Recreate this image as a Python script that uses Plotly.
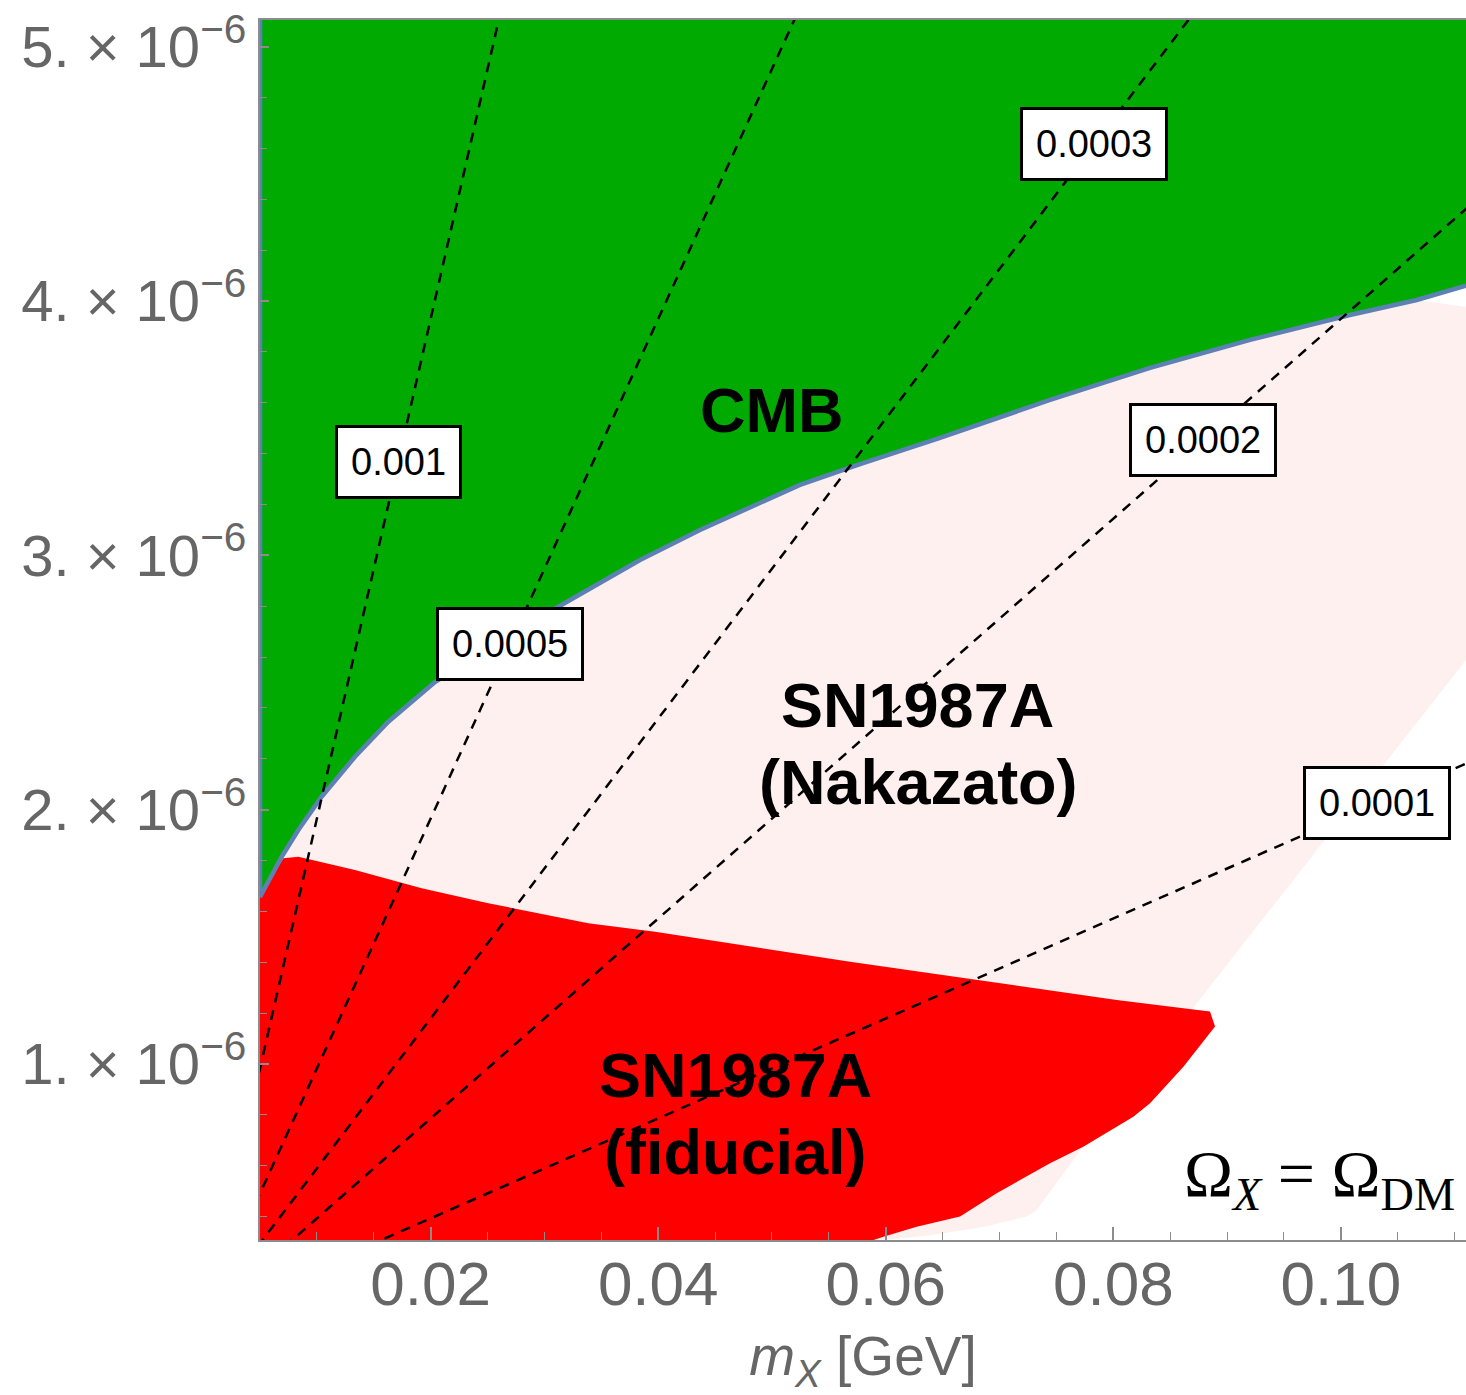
import plotly.graph_objects as go

# ---------------------------------------------------------------
# Exclusion regions in the (m_X, y) plane
# ---------------------------------------------------------------
# CMB bound: lower edge of the excluded (green) region
cmb_m = [0.005, 0.00691, 0.00837, 0.01042, 0.01335, 0.01628, 0.02038, 0.0270,
         0.03339, 0.0384, 0.04367, 0.05246, 0.05774, 0.06477, 0.07444, 0.08323,
         0.09202, 0.1008, 0.10667, 0.111]
cmb_y = [1.657, 1.815, 1.920, 2.051, 2.208, 2.346, 2.502, 2.69,
         2.856, 2.982, 3.100, 3.277, 3.359, 3.462, 3.611, 3.737,
         3.847, 3.945, 4.004, 4.06]  # units of 1e-6

# SN1987A (Nakazato) excluded region: outline, clockwise from upper left
nak_m = [0.005, 0.00691, 0.00837, 0.01042, 0.01335, 0.01628, 0.02038, 0.0270,
         0.03339, 0.0384, 0.04367, 0.05246, 0.05774, 0.06477, 0.07444, 0.08323,
         0.09202, 0.1008, 0.10667, 0.111, 0.111, 0.08736, 0.07734, 0.07327,
         0.07239, 0.06855, 0.06415, 0.05976, 0.0560, 0.005]
nak_y = [1.657, 1.815, 1.920, 2.051, 2.208, 2.346, 2.502, 2.69,
         2.856, 2.982, 3.100, 3.277, 3.359, 3.462, 3.611, 3.737,
         3.847, 3.945, 4.004, 3.977, 2.589, 1.240, 0.674, 0.426,
         0.400, 0.359, 0.328, 0.308, 0.28, 0.28]

# SN1987A (fiducial) excluded region outline
fid_m = [0.005, 0.00705, 0.00837, 0.01335, 0.01921, 0.02507, 0.03386, 0.03972,
         0.05686, 0.06389, 0.07151, 0.0803, 0.08616, 0.0885, 0.08894, 0.08616,
         0.08323, 0.08176, 0.07736, 0.07444, 0.06975, 0.06653, 0.06272, 0.05979,
         0.05774, 0.005]
fid_y = [1.658, 1.809, 1.815, 1.763, 1.691, 1.632, 1.553, 1.520,
         1.402, 1.357, 1.311, 1.252, 1.219, 1.206, 1.147, 0.989,
         0.846, 0.793, 0.675, 0.610, 0.492, 0.400, 0.360, 0.321,
         0.29, 0.29]

# Contours of constant coupling for Omega_X = Omega_DM: y = slope * level * m
contour_levels = [0.001, 0.0005, 0.0003, 0.0002, 0.0001]
contour_labels = ["0.001", "0.0005", "0.0003", "0.0002", "0.0001"]
contour_slope = 0.1965          # y / (level * m)
label_m = [0.01713, 0.02697, 0.0783, 0.08789, 0.1032]

x_range = [0.005, 0.111]
y_range = [0.308e-6, 5.105e-6]

y_tickvals = [1e-6, 2e-6, 3e-6, 4e-6, 5e-6]
y_ticktext = ["1. × 10<sup>−6</sup>", "2. × 10<sup>−6</sup>", "3. × 10<sup>−6</sup>",
              "4. × 10<sup>−6</sup>", "5. × 10<sup>−6</sup>"]

E6 = 1e-6
GREEN = "#00AA00"
PINK = "#FFF0F0"
RED = "#FF0000"
BLUE = "#5E81B5"
GRAY_TXT = "#666666"
GRAY_AX = "#8C8C8C"
SANS = "Liberation Sans, Arial, Helvetica, sans-serif"
SERIF = "Liberation Serif, Times New Roman, serif"

fig = go.Figure()

# Nakazato region (drawn first, lies underneath)
fig.add_trace(go.Scatter(x=nak_m, y=[v * E6 for v in nak_y], mode="lines",
                         fill="toself", fillcolor=PINK, line=dict(width=0),
                         hoverinfo="skip"))

# Fiducial region
fig.add_trace(go.Scatter(x=fid_m, y=[v * E6 for v in fid_y], mode="lines",
                         fill="toself", fillcolor=RED, line=dict(width=0),
                         hoverinfo="skip"))

# CMB region: boundary curve closed along the top of the frame
top = 6.0
cmb_poly_m = [0.005] + cmb_m + [cmb_m[-1], 0.005]
cmb_poly_y = [top] + cmb_y + [top, top]
fig.add_trace(go.Scatter(x=cmb_poly_m, y=[v * E6 for v in cmb_poly_y], mode="lines",
                         fill="toself", fillcolor=GREEN, line=dict(width=0),
                         hoverinfo="skip"))

# CMB boundary line (left edge + curve)
fig.add_trace(go.Scatter(x=[0.005] + cmb_m, y=[top * E6] + [v * E6 for v in cmb_y],
                         mode="lines", line=dict(color=BLUE, width=4.5),
                         hoverinfo="skip"))

# Dashed contour lines
for lev in contour_levels:
    k = contour_slope * lev
    xs = [0.0, 0.12]
    fig.add_trace(go.Scatter(x=xs, y=[k * x for x in xs], mode="lines",
                             line=dict(color="black", width=2.5, dash="10px,8px"),
                             hoverinfo="skip"))

annotations = []
# Boxed contour labels
for lev, txt, m in zip(contour_levels, contour_labels, label_m):
    annotations.append(dict(x=m, y=contour_slope * lev * m, xref="x", yref="y",
                            text=txt, showarrow=False,
                            font=dict(family=SANS, size=38, color="black"),
                            bgcolor="white", bordercolor="black", borderwidth=3,
                            borderpad=13))

# Region labels
def region_label(text, x, y):
    annotations.append(dict(x=x, y=y * E6, xref="x", yref="y", text=text,
                            showarrow=False,
                            font=dict(family=SANS, size=63, color="black")))

region_label("<b>CMB</b>", 0.0500, 3.572)
region_label("<b>SN1987A</b>", 0.06275, 2.412)
region_label("<b>(Nakazato)</b>", 0.06284, 2.109)
region_label("<b>SN1987A</b>", 0.04675, 0.957)
region_label("<b>(fiducial)</b>", 0.04675, 0.654)

# Relic abundance condition
annotations.append(dict(x=0.1102, y=0.55e-6, xref="x", yref="y", xanchor="right",
                        text="Ω<sub><i>X</i></sub> = Ω<sub>DM</sub>", showarrow=False,
                        font=dict(family=SERIF, size=66, color="black")))

fig.update_layout(
    width=1466, height=1395,
    margin=dict(l=260, r=0, t=20, b=155),
    plot_bgcolor="white", paper_bgcolor="white",
    showlegend=False,
    annotations=annotations,
    xaxis=dict(
        range=x_range, showgrid=False, zeroline=False,
        showline=True, linecolor=GRAY_AX, linewidth=2, mirror=True,
        ticks="inside", ticklen=13, tickwidth=1.5, tickcolor=GRAY_AX,
        tick0=0, dtick=0.02, tickformat=".2f", ticklabelstandoff=-11,
        tickfont=dict(family=SANS, size=62, color=GRAY_TXT),
        minor=dict(ticks="inside", tick0=0, dtick=0.005, ticklen=8,
                   tickwidth=1.2, tickcolor=GRAY_AX),
        title=dict(text="<i>m</i><sub><i>X</i></sub> [GeV]",
                   font=dict(family=SANS, size=55, color=GRAY_TXT), standoff=33),
    ),
    yaxis=dict(
        range=y_range, showgrid=False, zeroline=False,
        showline=True, linecolor=GRAY_AX, linewidth=2,
        ticks="inside", ticklen=9, tickwidth=1.5, tickcolor=GRAY_AX,
        tickmode="array", tickvals=y_tickvals, ticktext=y_ticktext,
        tickfont=dict(family=SANS, size=58, color=GRAY_TXT),
        minor=dict(ticks="inside", tick0=0, dtick=0.2e-6, ticklen=7,
                   tickwidth=1.2, tickcolor=GRAY_AX),
    ),
)

fig.write_html("out.html")
